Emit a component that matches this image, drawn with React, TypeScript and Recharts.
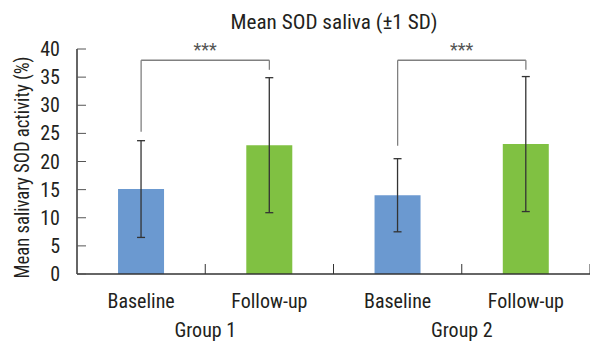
import React from 'react';
import { BarChart, Bar, XAxis, YAxis, ErrorBar, ReferenceLine, Cell } from 'recharts';

const categoryKeys = ['g1-baseline', 'g1-followup', 'g2-baseline', 'g2-followup'];
const categoryLabels = ['Baseline', 'Follow-up', 'Baseline', 'Follow-up'];
const groupLabels = ['Group 1', 'Group 2'];
const meanValues = [15.1, 22.9, 14.0, 23.1];
const sdValues = [8.6, 12.0, 6.5, 12.0];
const barColors = ['#6b99d0', '#80c142', '#6b99d0', '#80c142'];
const yTicks = [0, 5, 10, 15, 20, 25, 30, 35, 40];
const titleText = 'Mean SOD saliva (±1 SD)';
const yAxisTitle = 'Mean salivary SOD activity (%)';
const brackets = [
  { from: 'g1-baseline', to: 'g1-followup', top: 38, fromEnd: 25.3, toEnd: 36.3, label: '***' },
  { from: 'g2-baseline', to: 'g2-followup', top: 38, fromEnd: 22.8, toEnd: 36.3, label: '***' },
];

const data = categoryKeys.map((key, i) => ({
  key,
  label: categoryLabels[i],
  mean: meanValues[i],
  sd: sdValues[i],
}));

const FONT = "'Liberation Sans Narrow', 'Roboto Condensed', 'DejaVu Sans Condensed', sans-serif";
const TEXT = '#231f20';

const XTick = (props: any) => {
  const { x, y, index, payload } = props;
  const half = payload && payload.offset ? payload.offset : 64;
  const isGroupStart = index % 2 === 0;
  return (
    <g>
      <line x1={x + half} x2={x + half} y1={y} y2={y - 10} stroke="#333" strokeWidth={1} />
      <text x={x} y={y + 34} textAnchor="middle" fill={TEXT} fontFamily={FONT} fontSize={20}>
        {categoryLabels[index]}
      </text>
      {isGroupStart && (
        <text x={x + half} y={y + 63} textAnchor="middle" fill={TEXT} fontFamily={FONT} fontSize={20}>
          {groupLabels[index / 2]}
        </text>
      )}
    </g>
  );
};

const YLabel = (props: any) => {
  const vb = props.viewBox || {};
  const cy = vb.y + vb.height / 2 + 6;
  const cx = 29;
  return (
    <text
      x={cx}
      y={cy}
      transform={`rotate(-90, ${cx}, ${cy})`}
      textAnchor="middle"
      fill={TEXT}
      fontFamily={FONT}
      fontSize={20}
      textLength={222}
      lengthAdjust="spacingAndGlyphs"
    >
      {yAxisTitle}
    </text>
  );
};

export default function App() {
  return (
    <div style={{ position: 'absolute', left: 0, top: 0, width: 590, height: 342, background: '#fff' }}>
      <BarChart
        width={590}
        height={342}
        data={data}
        margin={{ top: 49, right: 0, bottom: 0, left: 0 }}
        barCategoryGap="32%"
      >
        <XAxis
          dataKey="key"
          axisLine={{ stroke: '#333', strokeWidth: 1.5 }}
          tickLine={false}
          tickSize={0}
          tickMargin={0}
          tick={<XTick />}
          height={68}
          interval={0}
        />
        <YAxis
          domain={[0, 40]}
          ticks={yTicks}
          interval={0}
          width={77}
          axisLine={{ stroke: '#333', strokeWidth: 1.5 }}
          tickLine={{ stroke: '#555', strokeWidth: 1 }}
          tickSize={-9}
          tickMargin={26}
          tick={{ fill: TEXT, fontFamily: FONT, fontSize: 20 }}
          label={<YLabel />}
        />
        <Bar dataKey="mean" isAnimationActive={false}>
          {data.map((d, i) => (
            <Cell key={d.key} fill={barColors[i]} />
          ))}
          <ErrorBar dataKey="sd" width={4} stroke="#333" strokeWidth={1.3} direction="y" />
        </Bar>
        {brackets.map((b, i) => (
          <ReferenceLine
            key={`h${i}`}
            segment={[{ x: b.from, y: b.top }, { x: b.to, y: b.top }]}
            stroke="#808080"
            strokeWidth={1.3}
            ifOverflow="visible"
            label={{ value: b.label, position: 'top', offset: 4, fill: '#555', fontFamily: FONT, fontSize: 18 }}
          />
        ))}
        {brackets.map((b, i) => (
          <ReferenceLine
            key={`l${i}`}
            segment={[{ x: b.from, y: b.top }, { x: b.from, y: b.fromEnd }]}
            stroke="#808080"
            strokeWidth={1.3}
            ifOverflow="visible"
          />
        ))}
        {brackets.map((b, i) => (
          <ReferenceLine
            key={`r${i}`}
            segment={[{ x: b.to, y: b.top }, { x: b.to, y: b.toEnd }]}
            stroke="#808080"
            strokeWidth={1.3}
            ifOverflow="visible"
          />
        ))}
      </BarChart>
      <svg
        width={590}
        height={40}
        style={{ position: 'absolute', left: 0, top: 0, pointerEvents: 'none' }}
      >
        <text
          x={334}
          y={29}
          textAnchor="middle"
          fill={TEXT}
          fontFamily={FONT}
          fontSize={20}
          textLength={207}
          lengthAdjust="spacingAndGlyphs"
        >
          {titleText}
        </text>
      </svg>
    </div>
  );
}
